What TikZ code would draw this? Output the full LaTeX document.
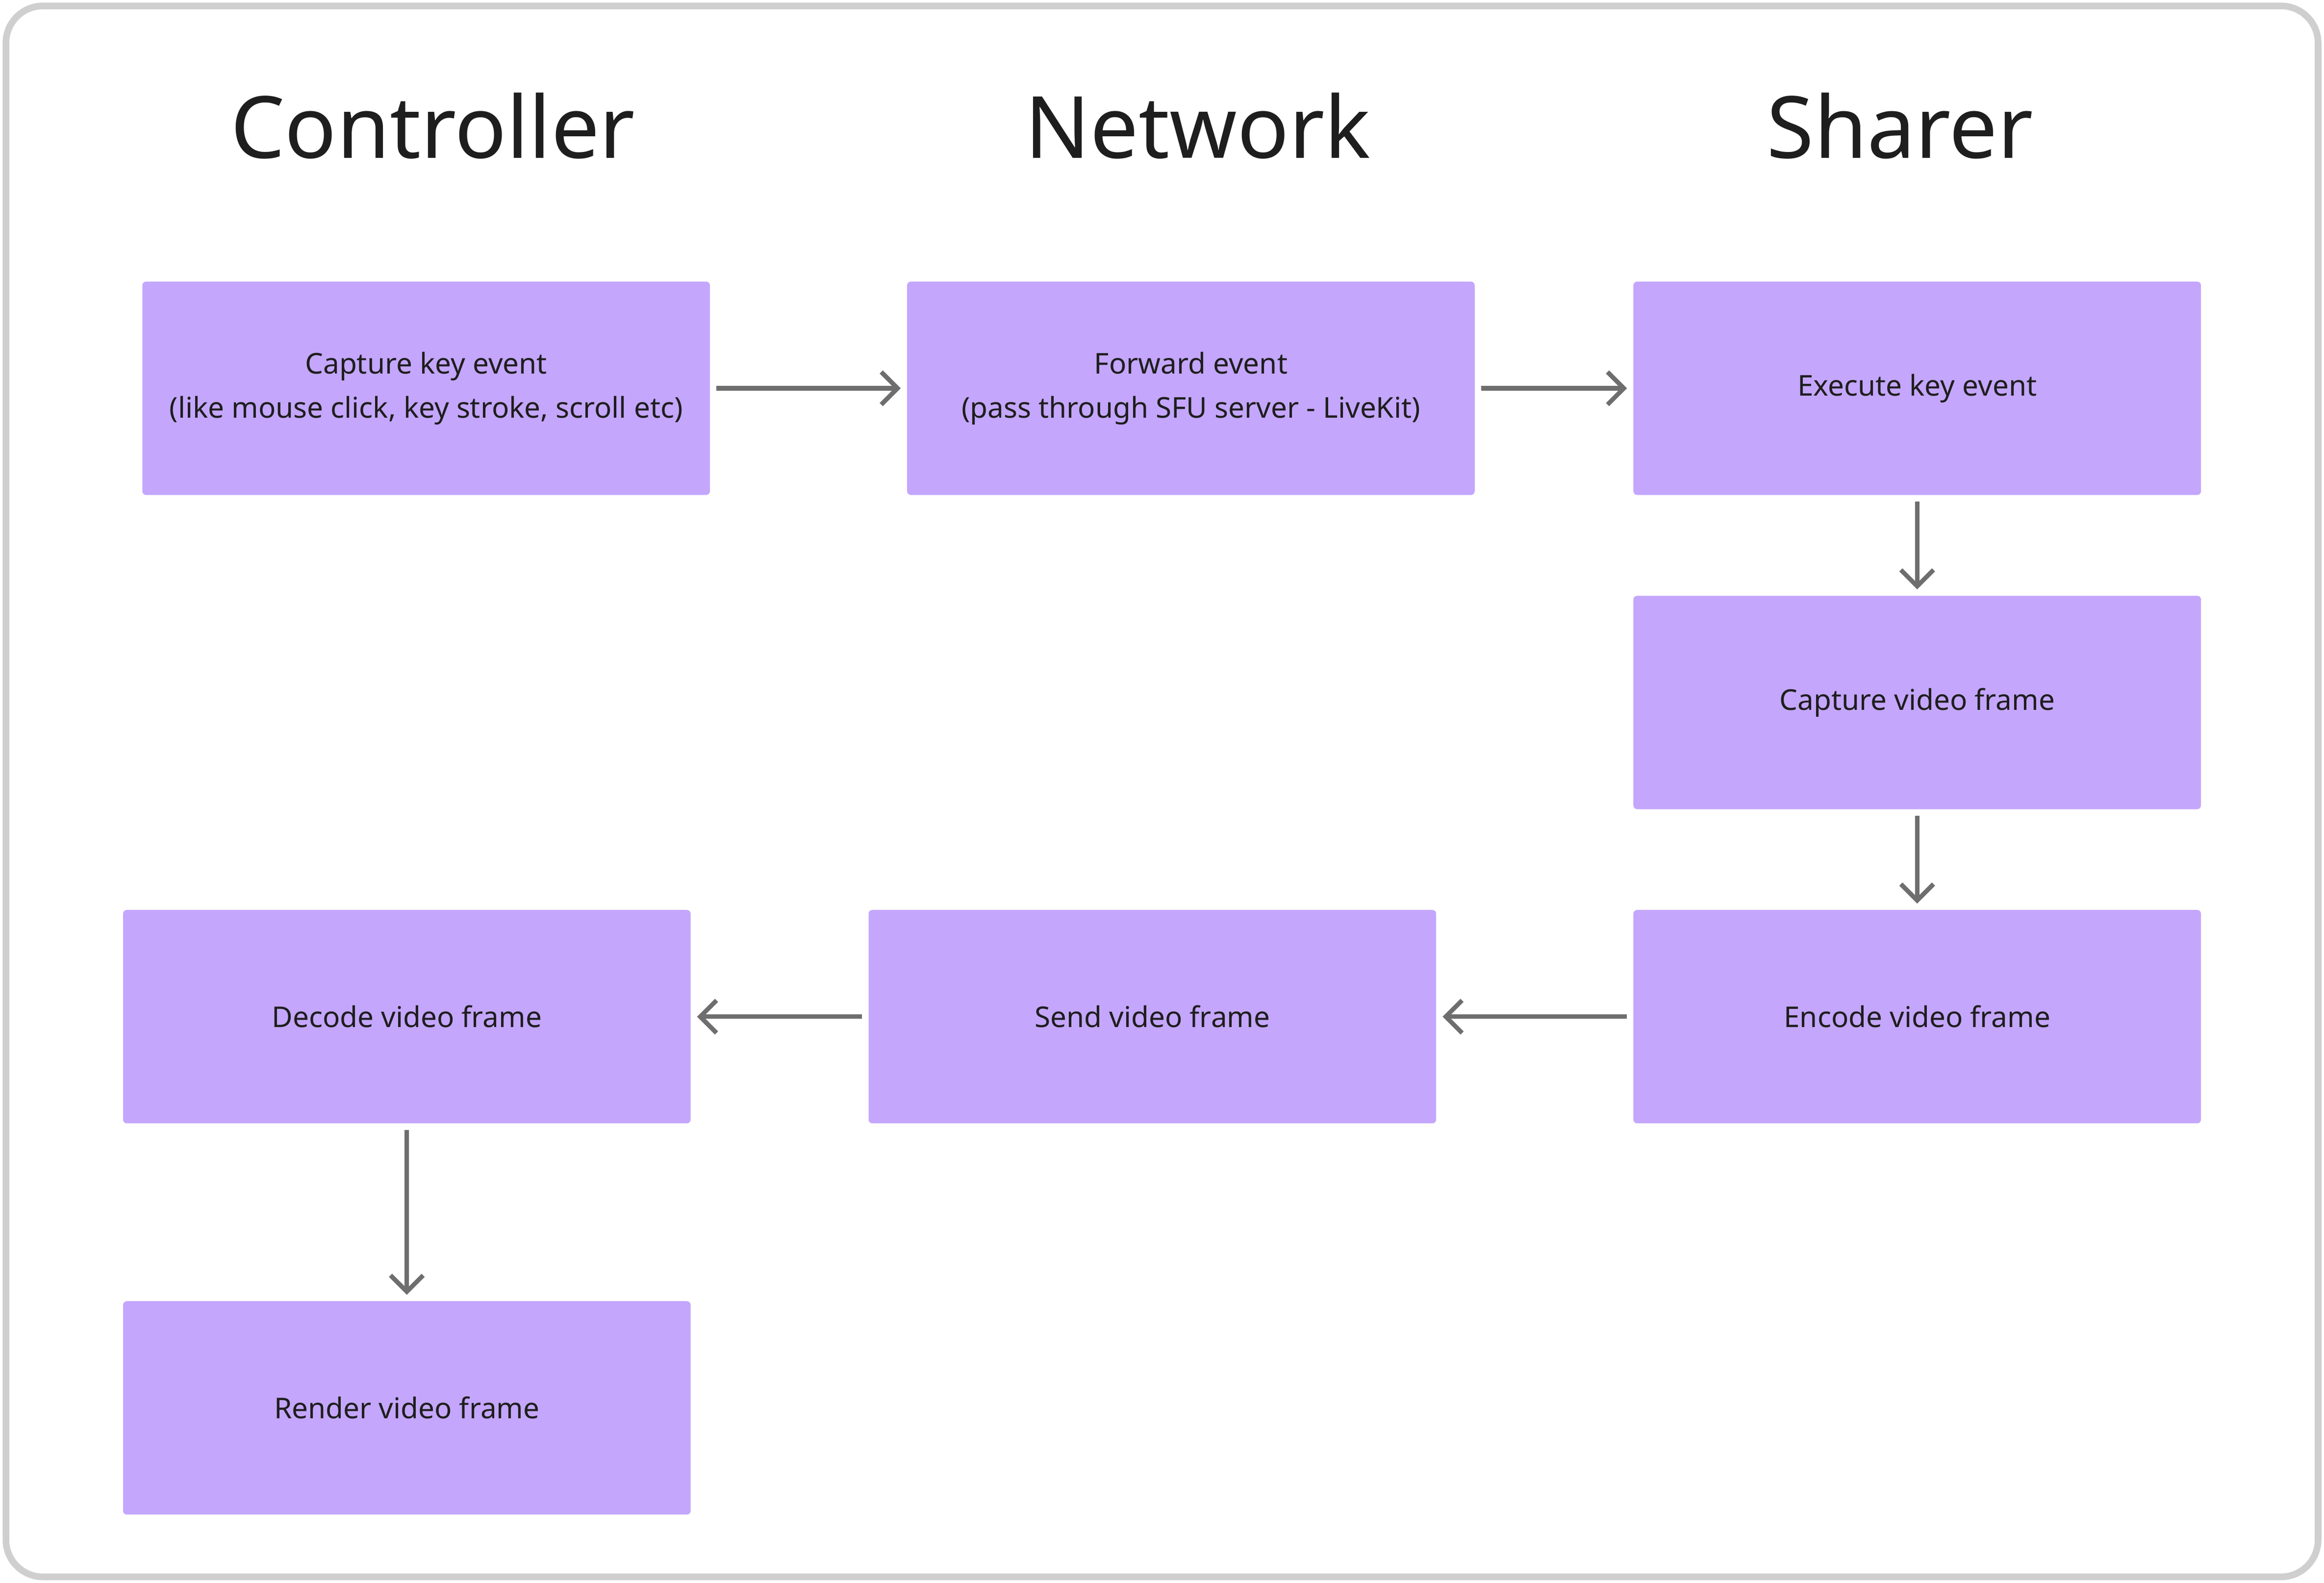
\documentclass[tikz,border=0pt]{standalone}
\usepackage{fontspec}
\setmainfont{Noto Sans}
\usetikzlibrary{arrows.meta}
\definecolor{boxc}{HTML}{C4A6FC}
\definecolor{arr}{HTML}{6E6E6E}
\definecolor{frame}{HTML}{CFCFCF}
\definecolor{txt}{HTML}{1E1E1E}
\begin{document}
\begin{tikzpicture}[x=0.02cm,y=-0.02cm,
  box/.style={fill=boxc,draw=none,rounded corners=0.05cm,minimum width=7.66cm,minimum height=2.88cm,align=center,font=\fontsize{11}{17}\selectfont,text=txt},
  title/.style={font=\fontsize{33}{36}\selectfont\bfseries,text=txt},
  conn/.style={draw=arr,line width=0.06cm,-{Straight Barb[length=0.22cm,width=0.44cm,line width=0.06cm]},shorten <=0.08cm,shorten >=0.08cm}]
\useasboundingbox (0,0) rectangle (1568,1068);
\draw[frame,line width=0.09cm,rounded corners=0.5cm,fill=white] (4,4) rectangle (1564,1064);
\node[title] (t1) at (292,85) {Controller};
\node[title] (t2) at (808,85) {Network};
\node[title] (t3) at (1282,85) {Sharer};
\node[box] (a) at (287.5,262) {\textbf{Capture key event}\\(like mouse click, key stroke, scroll etc)};
\node[box] (b) at (803.5,262) {\textbf{Forward event}\\(pass through SFU server - LiveKit)};
\node[box] (c) at (1293.5,262) {\textbf{Execute key event}};
\node[box] (d) at (1293.5,474) {\textbf{Capture video frame}};
\node[box] (e) at (1293.5,686) {\textbf{Encode video frame}};
\node[box] (f) at (777.5,686) {\textbf{Send video frame}};
\node[box] (g) at (274.5,686) {\textbf{Decode video frame}};
\node[box] (h) at (274.5,950) {\textbf{Render video frame}};
\draw[conn] (a) -- (b);
\draw[conn] (b) -- (c);
\draw[conn] (c) -- (d);
\draw[conn] (d) -- (e);
\draw[conn] (e) -- (f);
\draw[conn] (f) -- (g);
\draw[conn] (g) -- (h);
\end{tikzpicture}
\end{document}
